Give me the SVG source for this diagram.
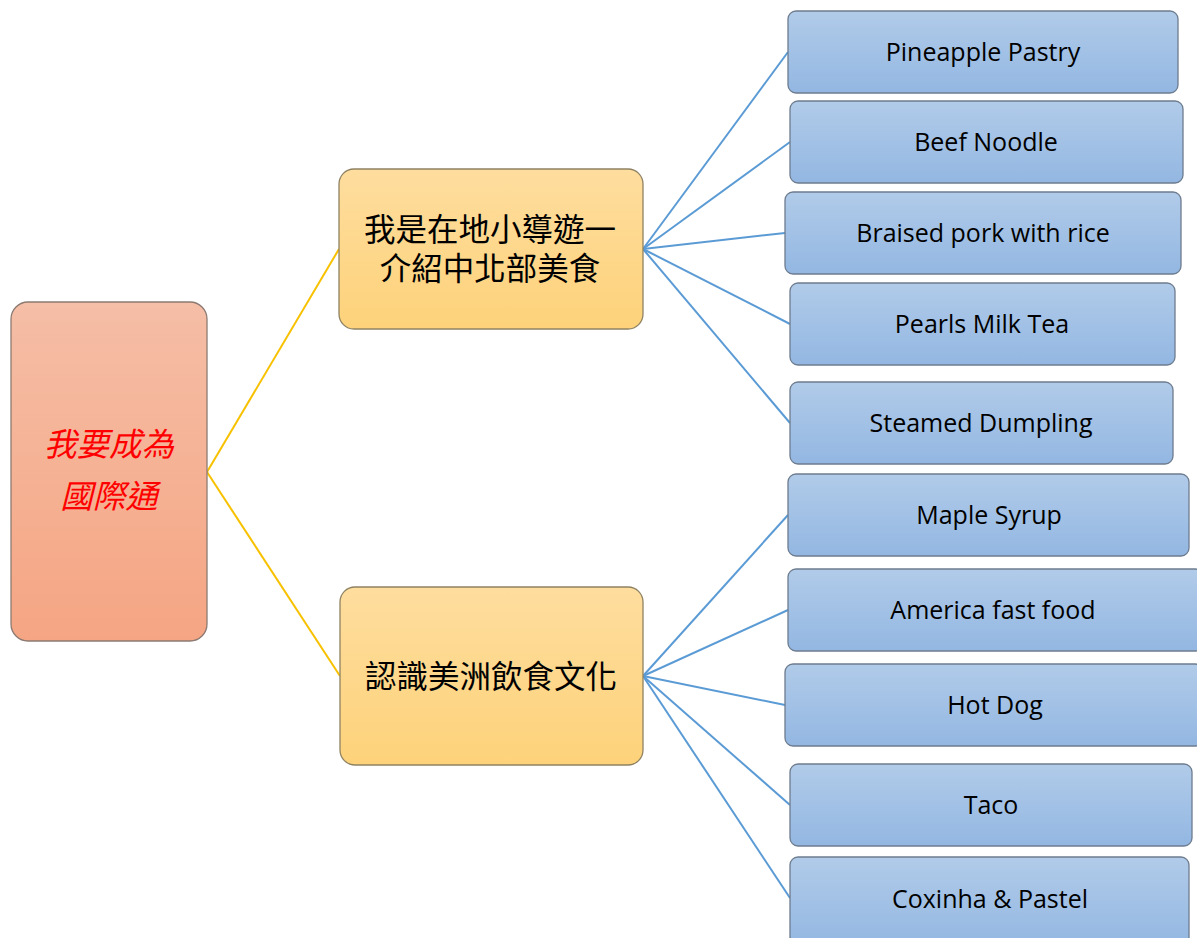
<svg xmlns="http://www.w3.org/2000/svg" width="1197" height="938" viewBox="0 0 1197 938">
<defs>
<linearGradient id="gRoot" x1="0" y1="0" x2="0" y2="1"><stop offset="0" stop-color="#F5BEA6"/><stop offset="1" stop-color="#F5A583"/></linearGradient>
<linearGradient id="gMid" x1="0" y1="0" x2="0" y2="1"><stop offset="0" stop-color="#FEDD9E"/><stop offset="1" stop-color="#FDD27A"/></linearGradient>
<linearGradient id="gLeaf" x1="0" y1="0" x2="0" y2="1"><stop offset="0" stop-color="#B1CBE9"/><stop offset="1" stop-color="#93B7E2"/></linearGradient>
</defs>
<style>
.root{fill:url(#gRoot);stroke:#8C7A72;stroke-width:1.3}
.mid{fill:url(#gMid);stroke:#8E8262;stroke-width:1.3}
.leaf{fill:url(#gLeaf);stroke:#6D7C8E;stroke-width:1.3}
.lt{font-family:"Open Sans","Liberation Sans",sans-serif;font-size:25px;fill:#000;text-anchor:middle}
.mt{font-family:"Noto Sans CJK TC","Noto Sans CJK SC",sans-serif;font-size:31.5px;fill:#000;text-anchor:middle}
.rt{font-family:"Noto Sans CJK TC","Noto Sans CJK SC",sans-serif;font-size:32.5px;fill:#FF0000;font-style:italic;text-anchor:middle}
.cy{stroke:#F8C100;stroke-width:2;fill:none}
.cb{stroke:#5B9BD5;stroke-width:2;fill:none}
</style>
<g id="connectors">
<line class="cy" x1="207" y1="472" x2="339" y2="249"/>
<line class="cy" x1="207" y1="472" x2="340" y2="676"/>
<line class="cb" x1="643" y1="249" x2="788" y2="52"/>
<line class="cb" x1="643" y1="249" x2="790" y2="142"/>
<line class="cb" x1="643" y1="249" x2="785" y2="233"/>
<line class="cb" x1="643" y1="249" x2="790" y2="324"/>
<line class="cb" x1="643" y1="249" x2="790" y2="423"/>
<line class="cb" x1="643" y1="676" x2="788" y2="515"/>
<line class="cb" x1="643" y1="676" x2="788" y2="610"/>
<line class="cb" x1="643" y1="676" x2="785" y2="705"/>
<line class="cb" x1="643" y1="676" x2="790" y2="805"/>
<line class="cb" x1="643" y1="676" x2="790" y2="898"/>
</g>
<g id="root">
<rect class="root" x="11" y="302" width="196" height="339" rx="17"/>
<text class="rt" x="109" y="456">我要成為</text>
<text class="rt" x="109" y="508">國際通</text>
</g>
<g id="mid1">
<rect class="mid" x="339" y="169" width="304" height="160" rx="15"/>
<text class="mt" x="490" y="241">我是在地小導遊一</text>
<text class="mt" x="490" y="280">介紹中北部美食</text>
</g>
<g id="mid2">
<rect class="mid" x="340" y="587" width="303" height="178" rx="15"/>
<text class="mt" x="491" y="688">認識美洲飲食文化</text>
</g>
<g id="leaf1"><rect class="leaf" x="788" y="11" width="390" height="82" rx="8"/><text class="lt" x="983" y="61">Pineapple Pastry</text></g>
<g id="leaf2"><rect class="leaf" x="790" y="101" width="393" height="82" rx="8"/><text class="lt" x="986" y="151">Beef Noodle</text></g>
<g id="leaf3"><rect class="leaf" x="785" y="192" width="396" height="82" rx="8"/><text class="lt" x="983" y="242">Braised pork with rice</text></g>
<g id="leaf4"><rect class="leaf" x="790" y="283" width="385" height="82" rx="8"/><text class="lt" x="982" y="333">Pearls Milk Tea</text></g>
<g id="leaf5"><rect class="leaf" x="790" y="382" width="383" height="82" rx="8"/><text class="lt" x="981" y="432">Steamed Dumpling</text></g>
<g id="leaf6"><rect class="leaf" x="788" y="474" width="401" height="82" rx="8"/><text class="lt" x="989" y="524">Maple Syrup</text></g>
<g id="leaf7"><rect class="leaf" x="788" y="569" width="415" height="82" rx="8"/><text class="lt" x="993" y="619">America fast food</text></g>
<g id="leaf8"><rect class="leaf" x="785" y="664" width="418" height="82" rx="8"/><text class="lt" x="995" y="714">Hot Dog</text></g>
<g id="leaf9"><rect class="leaf" x="790" y="764" width="402" height="82" rx="8"/><text class="lt" x="991" y="814">Taco</text></g>
<g id="leaf10"><rect class="leaf" x="790" y="857" width="399" height="90" rx="8"/><text class="lt" x="990" y="908">Coxinha &amp; Pastel</text></g>
</svg>
